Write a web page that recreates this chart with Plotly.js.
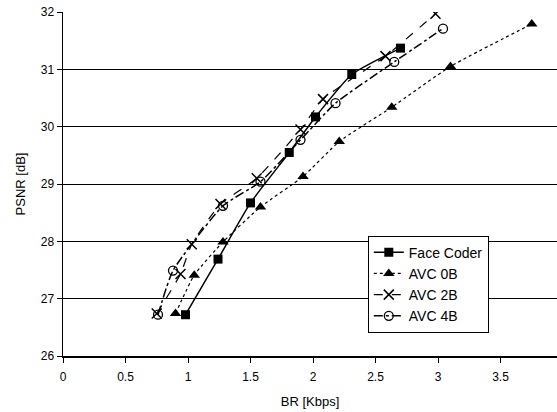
<!DOCTYPE html>
<html>
<head>
<meta charset="utf-8">
<script src="https://cdn.plot.ly/plotly-3.0.1.min.js"></script>
<style>html,body{margin:0;padding:0;background:#fff;}#chart{width:557px;height:412px;}</style>
</head>
<body>
<div id="chart"></div>
<script>
var seriesNames = ["Face Coder", "AVC 0B", "AVC 2B", "AVC 4B"];

var faceX = [0.98, 1.24, 1.50, 1.81, 2.02, 2.31, 2.70];
var faceY = [26.72, 27.69, 28.67, 29.55, 30.17, 30.91, 31.37];

var avc0X = [0.90, 1.05, 1.28, 1.58, 1.92, 2.21, 2.63, 3.10, 3.75];
var avc0Y = [26.74, 27.41, 27.99, 28.60, 29.13, 29.74, 30.34, 31.05, 31.79];

var avc2X = [0.75, 0.94, 1.03, 1.26, 1.55, 1.90, 2.08, 2.58, 2.98];
var avc2Y = [26.74, 27.43, 27.95, 28.65, 29.10, 29.95, 30.48, 31.23, 31.97];

var avc4X = [0.76, 0.88, 1.28, 1.58, 1.90, 2.18, 2.65, 3.04];
var avc4Y = [26.72, 27.49, 28.62, 29.04, 29.77, 30.41, 31.13, 31.71];

var xTicks = [0, 0.5, 1, 1.5, 2, 2.5, 3, 3.5];
var xTickText = ["0", "0.5", "1", "1.5", "2", "2.5", "3", "3.5"];
var yTicks = [26, 27, 28, 29, 30, 31, 32];

var traces = [
  {x: faceX, y: faceY, name: seriesNames[0], mode: "lines+markers",
   line: {color: "#000", width: 1.5, dash: "solid", shape: "spline", smoothing: 0.5},
   marker: {symbol: "square", size: 9, color: "#000"}},
  {x: avc0X, y: avc0Y, name: seriesNames[1], mode: "lines+markers",
   line: {color: "#000", width: 1.2, dash: "dot", shape: "spline", smoothing: 0.5},
   marker: {symbol: "triangle-up", size: 10, color: "#000"}},
  {x: avc2X, y: avc2Y, name: seriesNames[2], mode: "lines+markers",
   line: {color: "#000", width: 1.2, dash: "dash", shape: "spline", smoothing: 0.5},
   marker: {symbol: "x-thin-open", size: 10, color: "#000", line: {color: "#000", width: 1.5}}},
  {x: avc4X, y: avc4Y, name: seriesNames[3], mode: "lines+markers",
   line: {color: "#000", width: 1.5, dash: "dashdot", shape: "spline", smoothing: 0.5},
   marker: {symbol: "circle-open", size: 9, color: "#000", line: {color: "#000", width: 1.3}}}
];

var layout = {
  width: 557, height: 412,
  margin: {l: 63, r: 0, t: 12, b: 56},
  paper_bgcolor: "#fff", plot_bgcolor: "#fff",
  font: {family: "Liberation Sans, Arial, sans-serif", size: 12, color: "#000"},
  showlegend: true,
  legend: {x: 0.617, y: 0.35, xanchor: "left", yanchor: "top",
           bgcolor: "#fff", bordercolor: "#000", borderwidth: 1,
           entrywidth: 128, entrywidthmode: "pixels",
           font: {size: 14, family: "Liberation Sans, Arial, sans-serif"}},
  xaxis: {
    range: [0, 3.952], tickvals: xTicks, ticktext: xTickText,
    showgrid: false, zeroline: false, showline: true, linecolor: "#000", linewidth: 1.5,
    ticks: "outside", ticklen: 5, tickcolor: "#000", tickwidth: 1, ticklabelstandoff: 4,
    title: {text: "BR [Kbps]", font: {size: 13}, standoff: 14}
  },
  yaxis: {
    range: [26, 32], tickvals: yTicks,
    showgrid: true, gridcolor: "#000", gridwidth: 1,
    zeroline: false, showline: true, linecolor: "#000", linewidth: 1.5,
    ticks: "outside", ticklen: 5, tickcolor: "#000", tickwidth: 1,
    title: {text: "PSNR [dB]", font: {size: 13}, standoff: 12}
  }
};

Plotly.newPlot("chart", traces, layout, {displayModeBar: false, staticPlot: true});
</script>
</body>
</html>
